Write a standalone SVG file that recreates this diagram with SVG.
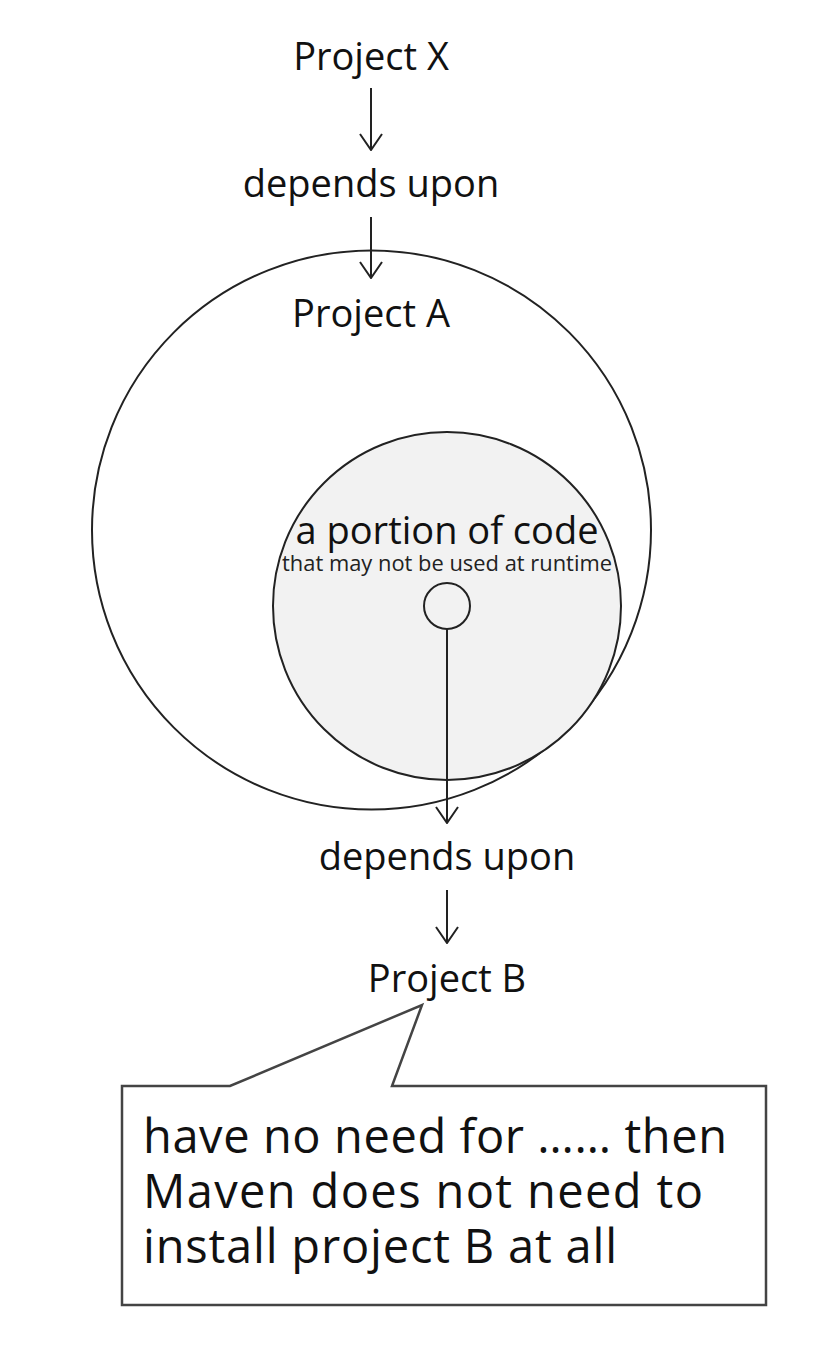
<svg xmlns="http://www.w3.org/2000/svg" width="816" height="1348" viewBox="0 0 816 1348">
<style>
  .lbl { font-family: "Open Sans", "Noto Sans", "DejaVu Sans", sans-serif; fill: #111; text-anchor: middle; }
  .big { font-size: 38px; }
  .small { font-size: 21px; fill: #222; }
  .note { font-family: "Open Sans", "Noto Sans", "DejaVu Sans", sans-serif; font-size: 47px; fill: #111; }
  .ring { fill: none; stroke: #222; stroke-width: 2; }
  .conn { fill: none; stroke: #222; stroke-width: 2; }
</style>
<defs>
  <marker id="arr" markerUnits="userSpaceOnUse" viewBox="0 0 18 24" refX="17" refY="12" markerWidth="18" markerHeight="24" orient="auto">
    <path d="M1,1 L17,12 L1,23" fill="none" stroke="#222" stroke-width="2"/>
  </marker>
</defs>
<rect width="816" height="1348" fill="#fff"/>

<g id="projectA">
  <circle class="ring" cx="371.5" cy="530" r="279.5"/>
  <text class="lbl big" x="371" y="327">Project A</text>
</g>

<g id="portion">
  <circle cx="447" cy="606" r="174" fill="#f2f2f2" stroke="#222" stroke-width="2"/>
  <text class="lbl big" x="447" y="544">a portion of code</text>
  <text class="lbl small" x="447" y="571" textLength="330" lengthAdjust="spacingAndGlyphs">that may not be used at runtime</text>
  <circle cx="447" cy="606" r="23" fill="none" stroke="#222" stroke-width="2"/>
</g>

<g id="projectX">
  <text class="lbl big" x="371" y="70">Project X</text>
</g>

<g id="depends1">
  <text class="lbl big" x="371" y="197">depends upon</text>
</g>

<g id="depends2">
  <text class="lbl big" x="447" y="870">depends upon</text>
</g>

<g id="projectB">
  <text class="lbl big" x="447" y="992">Project B</text>
</g>

<g id="note">
  <path d="M122,1086 L230,1086 L422,1005 L392,1086 L766,1086 L766,1305 L122,1305 Z" fill="#fff" stroke="#444" stroke-width="2.5"/>
  <text class="note" x="143" y="1153" textLength="584" lengthAdjust="spacing">have no need for …… then</text>
  <text class="note" x="143" y="1208" textLength="560" lengthAdjust="spacing">Maven does not need to</text>
  <text class="note" x="143" y="1263" textLength="474" lengthAdjust="spacing">install project B at all</text>
</g>

<g id="connectors">
  <line class="conn" x1="371" y1="88" x2="371" y2="150" marker-end="url(#arr)"/>
  <line class="conn" x1="371" y1="217" x2="371" y2="278" marker-end="url(#arr)"/>
  <line class="conn" x1="447" y1="629" x2="447" y2="823" marker-end="url(#arr)"/>
  <line class="conn" x1="447" y1="890" x2="447" y2="943" marker-end="url(#arr)"/>
</g>
</svg>
